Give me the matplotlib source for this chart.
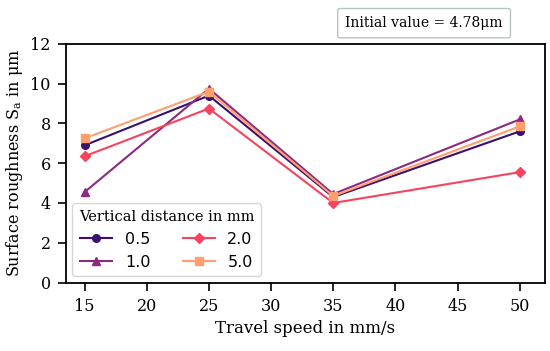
import matplotlib
matplotlib.use('Agg')
import matplotlib.pyplot as plt

speeds = [15, 25, 35, 50]
distances = ['0.5', '1.0', '2.0', '5.0']
sa_05 = [6.9, 9.4, 4.3, 7.6]
sa_10 = [4.55, 9.75, 4.45, 8.2]
sa_20 = [6.35, 8.75, 4.0, 5.55]
sa_50 = [7.25, 9.6, 4.35, 7.85]
series = [sa_05, sa_10, sa_20, sa_50]
markers = ['o', '^', 'D', 's']

# magma-like colours, red a bit brighter as in the original
colors = ['#3b0f70', '#8c2981', '#f7435f', '#fe9f6d']
serif = ['DejaVu Serif']

fig, ax = plt.subplots(figsize=(5.5, 3.51), dpi=100)
fig.subplots_adjust(left=0.12, right=0.99, top=0.875, bottom=0.195)

for vals, lab, m, c in zip(series, distances, markers, colors):
    ax.plot(speeds, vals, marker=m, color=c, label=lab, linewidth=1.5, markersize=5.5)

ax.set_xlim(13.5, 52)
ax.set_ylim(0, 12)
ax.set_xticks(range(15, 51, 5))
ax.set_yticks(range(0, 13, 2))
for t in ax.get_xticklabels() + ax.get_yticklabels():
    t.set_family(serif)
    t.set_fontsize(11.5)
ax.tick_params(direction='out', length=6, width=1.2, pad=5)
for s in ax.spines.values():
    s.set_linewidth(1.3)

ax.set_xlabel('Travel speed in mm/s', family=serif, fontsize=12)
ax.set_ylabel(r'Surface roughness S$_\mathregular{a}$ in $\mathregular{\mu}$m', family=serif, fontsize=11.5)

leg = ax.legend(title='Vertical distance in mm', ncol=2, loc='lower left',
                fontsize=11.5, title_fontsize=10.5, handlelength=2.0,
                columnspacing=2.0, frameon=True, borderaxespad=0.4)
leg.get_title().set_family(serif)

fig.text(0.771, 0.934, 'Initial value = 4.78\u03bcm', family=serif, fontsize=10,
         ha='center', va='center',
         bbox=dict(boxstyle='round,pad=0.55,rounding_size=0.15', fc='white', ec='#b8c4c4', lw=1))

plt.savefig('out.png', dpi=100)
